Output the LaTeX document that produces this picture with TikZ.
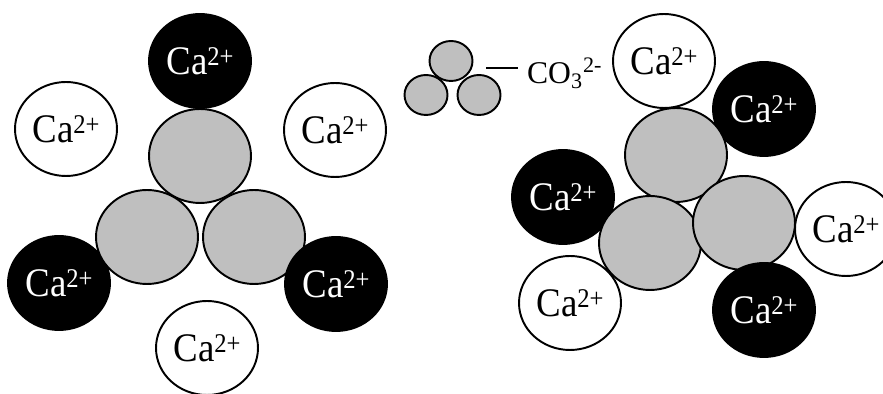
\documentclass[tikz,border=0pt]{standalone}
\usepackage{fontspec}
\setmainfont{Liberation Serif}
\usetikzlibrary{shapes.geometric}
\newcommand{\caion}{\scalebox{1}[1.1]{Ca\raisebox{4.6pt}{\fontsize{14}{14}\selectfont 2+}}}

\begin{document}
\begin{tikzpicture}[
    x=0.02cm, y=-0.02cm,
    ion/.style={ellipse, draw, line width=1.1pt, inner sep=0pt,
        minimum width=2.04cm, minimum height=1.88cm, font=\fontsize{21}{21}\selectfont},
    darkion/.style={ion, fill=black, text=white},
    lightion/.style={ion, fill=white},
    carb/.style={ion, fill=black!25},
    smallcarb/.style={ellipse, draw, line width=1.1pt, fill=black!25,
        minimum width=0.86cm, minimum height=0.8cm, inner sep=0pt}
]
    \useasboundingbox (0,0) rectangle (883,394);
    \clip (0,0) rectangle (883,394);

    % Left: one carbonate with its calcium neighbours
    \node[darkion] (blacktop) at (200,61) {\caion};
    \node[lightion] (whiteleft) at (66,129) {\caion};
    \node[lightion] (whiteright) at (335,130) {\caion};
    \node[darkion] (blackleft) at (59,283) {\caion};
    \node[lightion] (whitebottom) at (207,348) {\caion};
    \node[carb] (graytop) at (200,156) {};
    \node[carb] (grayleft) at (147,237) {};
    \node[carb] (grayright) at (254,237) {};
    \node[darkion] (blackright) at (336,284) {\caion};

    % Legend
    \node[smallcarb] (co3a) at (451,61) {};
    \node[smallcarb] (co3b) at (426,95) {};
    \node[smallcarb] (co3c) at (479,95) {};
    \node[anchor=base west, inner ysep=0pt, inner xsep=5pt, font=\fontsize{18}{18}\selectfont]
        (co3) at (518,84) {CO\textsubscript{3}\textsuperscript{2-}};
    \coordinate (tick) at (486,68);
    \draw[line width=0.6pt] (tick) -- (tick -| co3.west);

    % Right: carbonate tilted
    \node[lightion] (whitetop2) at (664,61) {\caion};
    \node[darkion] (blacktop2) at (764,109) {\caion};
    \node[darkion] (blackleft2) at (563,197) {\caion};
    \node[lightion] (whiteright2) at (846,229) {\caion};
    \node[lightion] (whitebottom2) at (570,303) {\caion};
    \node[carb] (graytop2) at (676,155) {};
    \node[carb] (grayleft2) at (650,243) {};
    \node[carb] (grayright2) at (744,223) {};
    \node[darkion] (blackbottom2) at (764,310) {\caion};
\end{tikzpicture}
\end{document}
